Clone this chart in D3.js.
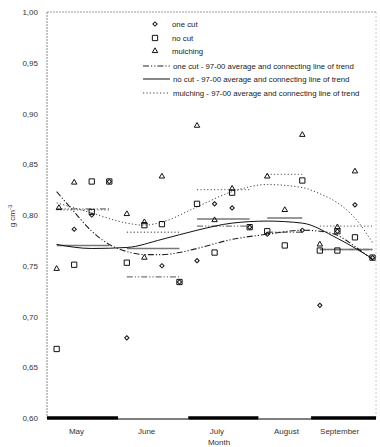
<!DOCTYPE html>
<html><head><meta charset="utf-8">
<script src="https://cdn.jsdelivr.net/npm/d3@7/dist/d3.min.js"></script>
<style>body{margin:0;background:#fff}svg{display:block;font-family:"Liberation Sans",Arial,sans-serif}</style>
</head><body><svg id="c" width="380" height="447"></svg>
<script>
// x = measurement index (1..19), y = bulk density g cm-3
const months = ["May","June","July","August","September"];
const monthBounds = [0.45, 4.5, 8.5, 12.5, 15.5, 19.2];
const monthLabelPos = [2.1, 6.1, 10.1, 14.07, 17.1];
const monthSpan = [[1,4],[5,8],[9,12],[13,15],[16,19]];
const yTicks = [0.60,0.65,0.70,0.75,0.80,0.85,0.90,0.95,1.00];

const oneCut = [[2,0.786],[3,0.800],[4,0.833],[5,0.679],[7,0.750],[8,0.734],[9,0.755],[10,0.811],[11,0.807],[12,0.788],[13,0.781],[15,0.785],[16,0.711],[17,0.784],[18,0.810],[19,0.758]];
const noCut = [[1,0.668],[2,0.751],[3,0.833],[3,0.803],[4,0.833],[5,0.753],[6,0.790],[7,0.791],[8,0.734],[9,0.811],[10,0.763],[11,0.822],[12,0.788],[13,0.784],[14,0.770],[15,0.834],[16,0.765],[17,0.765],[17,0.784],[18,0.778],[19,0.758]];
const mulching = [[1,0.747],[1.13,0.807],[2,0.832],[5,0.801],[6,0.793],[6,0.758],[7,0.838],[9,0.888],[10,0.795],[11,0.826],[13,0.838],[14,0.805],[15,0.879],[16,0.771],[17,0.788],[18,0.843]];

const oneCutAvg = [0.806, 0.739, 0.789, 0.783, 0.766];
const noCutAvg = [0.770, 0.767, 0.796, 0.797, 0.766];
const mulchAvg = [0.805, 0.783, 0.825, 0.840, 0.789];

const oneCutTrend = [[1,0.823],[2,0.803],[3,0.784],[4,0.771],[5,0.764],[6,0.761],[7,0.761],[8,0.763],[9,0.767],[11,0.776],[13,0.781],[15,0.785],[16,0.784],[17,0.780],[18,0.769],[19,0.756]];
const noCutTrend = [[1,0.771],[3,0.767],[5,0.768],[7,0.776],[9,0.785],[11,0.792],[13,0.794],[15,0.792],[17,0.777],[19,0.757]];
const mulchTrend = [[1,0.812],[3,0.802],[5,0.792],[6,0.790],[7,0.793],[9,0.808],[11,0.823],[13,0.830],[15,0.827],[16,0.821],[17,0.812],[18,0.797],[19,0.773]];

const legendLabels = ["one cut","no cut","mulching",
 "one cut - 97-00 average and connecting line of trend",
 "no cut - 97-00 average and connecting line of  trend",
 "mulching - 97-00 average and connecting line of trend"];

const svg = d3.select("#c");
const L = 47, R = 376, T = 12, B = 418;
const x = d3.scaleLinear().domain([0.45, 19.2]).range([L, R]);
const y = d3.scaleLinear().domain([0.60, 1.00]).range([B, T]);

const DASHDOT = "6,2,1.2,2,1.2,2";
const DOT = "1.2,2.2";

// frame
svg.append("line").attr("x1",L).attr("x2",L).attr("y1",T).attr("y2",B).attr("stroke","#888").attr("stroke-width",1).attr("stroke-dasharray","2,1");
svg.append("line").attr("x1",L).attr("x2",R).attr("y1",T).attr("y2",T).attr("stroke","#999").attr("stroke-width",1).attr("stroke-dasharray","2,1");
svg.append("line").attr("x1",R).attr("x2",R).attr("y1",T).attr("y2",B).attr("stroke","#ccc").attr("stroke-width",1).attr("stroke-dasharray","2,2");

// y axis labels
const yAxis = d3.axisLeft(y).tickValues(yTicks).tickSize(0).tickPadding(9)
  .tickFormat(d => d3.format(".2f")(d).replace(".", ","));
const gy = svg.append("g").attr("transform",`translate(${L},0)`).call(yAxis);
gy.select(".domain").remove();
gy.selectAll("text").attr("font-size",8).attr("fill","#333").attr("font-family","Liberation Sans, Arial, sans-serif");

// bottom month bars
months.forEach((m,i) => {
  const thick = i % 2 === 0;
  svg.append("line").attr("x1",x(monthBounds[i])).attr("x2",x(monthBounds[i+1]))
    .attr("y1", thick ? B : B+1).attr("y2", thick ? B : B+1)
    .attr("stroke","#000").attr("stroke-width", thick ? 3.5 : 1.2);
});
const xAxis = d3.axisBottom(x).tickValues(monthLabelPos).tickSize(0).tickPadding(10).tickFormat((d,i)=>months[i]);
const gx = svg.append("g").attr("transform",`translate(0,${B})`).call(xAxis);
gx.select(".domain").remove();
gx.selectAll("text").attr("font-size",8).attr("fill","#333").attr("font-family","Liberation Sans, Arial, sans-serif");

svg.append("text").attr("x",219).attr("y",445).attr("text-anchor","middle").attr("font-size",8).attr("fill","#333").text("Month");
const yt = svg.append("text").attr("transform","translate(15,216) rotate(-90)").attr("text-anchor","middle").attr("font-size",8).attr("fill","#333");
yt.append("tspan").text("g cm");
yt.append("tspan").attr("font-size",6).attr("dy",-3).text("-3");

// averages
function avgSegs(vals, dash, width, color){
  vals.forEach((v,i)=>{
    svg.append("line").attr("x1",x(monthSpan[i][0])).attr("x2",x(monthSpan[i][1]))
      .attr("y1",y(v)).attr("y2",y(v)).attr("stroke",color).attr("stroke-width",width)
      .attr("stroke-dasharray",dash);
  });
}
avgSegs(mulchAvg, DOT, 1.3, "#777");
avgSegs(oneCutAvg, DASHDOT, 1.3, "#777");
avgSegs(noCutAvg, null, 1.6, "#777");

// trends
const line = d3.line().x(d=>x(d[0])).y(d=>y(d[1])).curve(d3.curveMonotoneX);
svg.append("path").attr("d",line(mulchTrend)).attr("fill","none").attr("stroke","#444").attr("stroke-width",1).attr("stroke-dasharray",DOT);
svg.append("path").attr("d",line(oneCutTrend)).attr("fill","none").attr("stroke","#222").attr("stroke-width",1.1).attr("stroke-dasharray",DASHDOT);
svg.append("path").attr("d",line(noCutTrend)).attr("fill","none").attr("stroke","#111").attr("stroke-width",1);

// markers
const sym = {
  d: d3.symbol().type(d3.symbolSquare).size(9),
  s: d3.symbol().type(d3.symbolSquare).size(28),
  t: d3.symbol().type(d3.symbolTriangle).size(13)
};
const rot = {d:45, s:0, t:0};
function pts(data, s){
  svg.append("g").selectAll("path").data(data).join("path")
    .attr("transform",d=>`translate(${x(d[0])},${y(d[1])}) rotate(${rot[s]})`)
    .attr("d",sym[s]()).attr("fill","none").attr("stroke","#111").attr("stroke-width",1);
}
pts(noCut,"s"); pts(oneCut,"d"); pts(mulching,"t");

// legend
const ly = [24,38,51,66,79,93];
const lg = svg.append("g").attr("font-size",7.8).attr("fill","#222");
["d","s","t"].forEach((s,i)=>{
  lg.append("path").attr("transform",`translate(155,${ly[i]}) rotate(${rot[s]})`).attr("d",sym[s]()).attr("fill","none").attr("stroke","#111").attr("stroke-width",1);
});
[[DASHDOT,"#222"],[null,"#111"],[DOT,"#444"]].forEach((st,i)=>{
  lg.append("line").attr("x1",143).attr("x2",170).attr("y1",ly[i+3]).attr("y2",ly[i+3])
    .attr("stroke",st[1]).attr("stroke-width",1).attr("stroke-dasharray",st[0]);
});
legendLabels.forEach((t,i)=>{
  lg.append("text").attr("x", i<3 ? 172 : 173).attr("y",ly[i]+2.7).text(t);
});
</script></body></html>
